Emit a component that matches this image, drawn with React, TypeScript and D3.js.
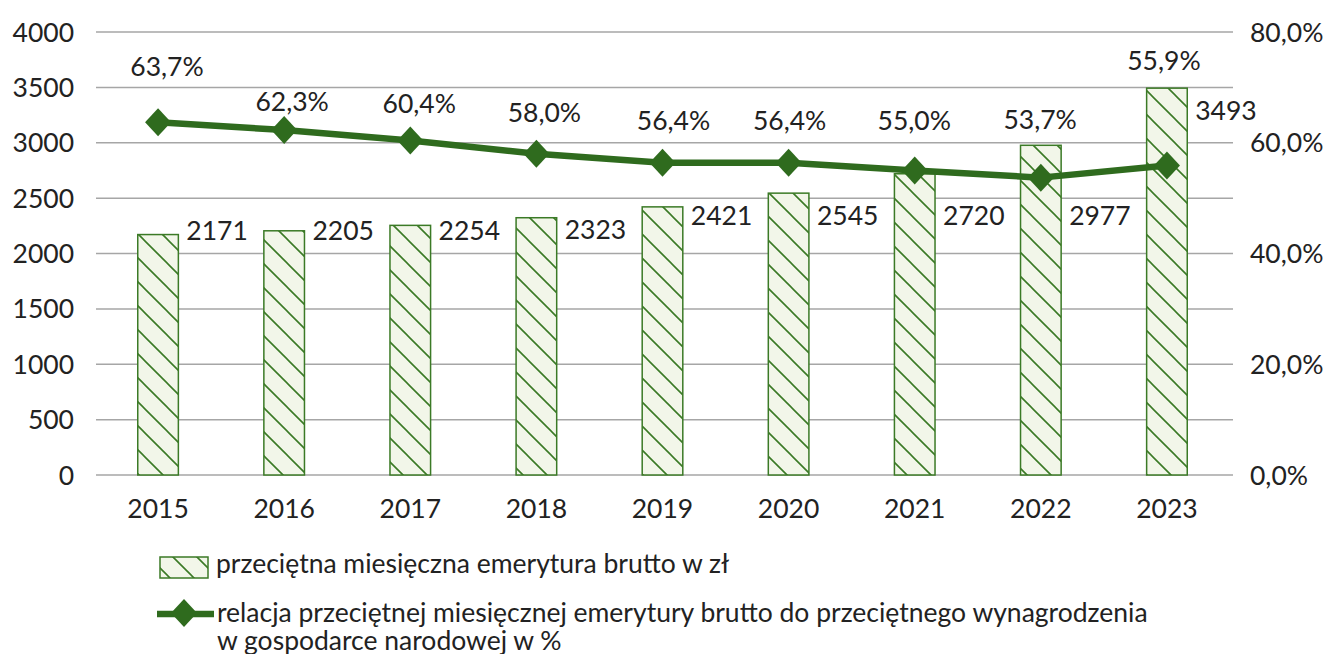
import React from 'react';
import * as d3 from 'd3';

const years = ['2015', '2016', '2017', '2018', '2019', '2020', '2021', '2022', '2023'];
const pension = [2171, 2205, 2254, 2323, 2421, 2545, 2720, 2977, 3493];
const ratio = [63.7, 62.3, 60.4, 58.0, 56.4, 56.4, 55.0, 53.7, 55.9];
const leftTicks = [0, 500, 1000, 1500, 2000, 2500, 3000, 3500, 4000];
const rightTicks = [0, 20, 40, 60, 80];
const legendBars = 'przeciętna miesięczna emerytura brutto w zł';
const legendLine1 = 'relacja przeciętnej miesięcznej emerytury brutto do przeciętnego wynagrodzenia';
const legendLine2 = 'w gospodarce narodowej w %';

// label placement offsets (layout, px)
const valueLabelDy = [5.4, 9.2, 14.6, 21.3, 18.1, 31.9, 51.2, 79.7, 31.9];
const pctLabelDx = [9, 8, 9, 8, 11, 1, -0.5, -0.7, -3];
const pctLabelDy = [-46, -19.3, -27.8, -32, -32.7, -32.7, -40.4, -48.3, -95.4];

const W = 1328;
const H = 654;
const FONT = 'Lato, "Open Sans", sans-serif';
const FS = 26.5;
const GREEN_DARK = '#2f6b1e';
const GREEN = '#3b7a26';
const FILL = '#f2f6e9';
const GRID = '#a6a6a6';
const TEXT = '#222';

export default function App() {
  const x = d3.scaleBand<string>().domain(years).range([95, 1230]).paddingInner(0.678).paddingOuter(0.339);
  const yL = d3.scaleLinear().domain([0, 4000]).range([475, 32]);
  const yR = d3.scaleLinear().domain([0, 80]).range([475, 32]);
  const cx = (i: number) => (x(years[i]) as number) + x.bandwidth() / 2;
  const line = d3.line<number>().x((_, i) => cx(i)).y((d) => yR(d));
  const fmtPct = (v: number) => v.toFixed(1).replace('.', ',') + '%';
  const diamond = 'M0,-14 L13,0 L0,14 L-13,0 Z';

  return (
    <svg width={W} height={H} style={{ position: 'absolute', left: 0, top: 0, background: '#fff' }} fontFamily={FONT}>
      <defs>
        <pattern id="hatch" patternUnits="userSpaceOnUse" width={24} height={24}>
          <rect width={24} height={24} fill={FILL} />
          <path d="M0,0 L24,24 M-6,18 L6,30 M18,-6 L30,6" stroke={GREEN} strokeWidth={1.6} />
        </pattern>
      </defs>
      <rect width={W} height={H} fill="#fff" />
      {leftTicks.map((t) => (
        <line key={'g' + t} x1={96} x2={1233} y1={yL(t)} y2={yL(t)} stroke={GRID} strokeWidth={1.5} />
      ))}
      {leftTicks.map((t) => (
        <text key={'l' + t} x={74} y={yL(t)} dy="0.36em" textAnchor="end" fontSize={FS} fill={TEXT}>
          {t}
        </text>
      ))}
      {rightTicks.map((t) => (
        <text key={'r' + t} x={1250} y={yR(t)} dy="0.36em" textAnchor="start" fontSize={FS} fill={TEXT}>
          {t.toFixed(1).replace('.', ',') + '%'}
        </text>
      ))}
      {years.map((yr, i) => (
        <rect
          key={'b' + yr}
          x={x(yr) as number}
          y={yL(pension[i])}
          width={x.bandwidth()}
          height={yL(0) - yL(pension[i])}
          fill="url(#hatch)"
          stroke={GREEN}
          strokeWidth={1.5}
        />
      ))}
      {years.map((yr, i) => (
        <text key={'v' + yr} x={(x(yr) as number) + x.bandwidth() + 8} y={yL(pension[i]) + valueLabelDy[i]} fontSize={FS} fill={TEXT}>
          {pension[i]}
        </text>
      ))}
      {years.map((yr) => (
        <text key={'x' + yr} x={(x(yr) as number) + x.bandwidth() / 2} y={518} textAnchor="middle" fontSize={FS} fill={TEXT}>
          {yr}
        </text>
      ))}
      <path d={line(ratio) as string} fill="none" stroke={GREEN_DARK} strokeWidth={6.5} strokeLinejoin="round" />
      {ratio.map((r, i) => (
        <path key={'m' + i} d={diamond} transform={`translate(${cx(i)},${yR(r)})`} fill={GREEN_DARK} />
      ))}
      {ratio.map((r, i) => (
        <text key={'p' + i} x={cx(i) + pctLabelDx[i]} y={yR(r) + pctLabelDy[i]} textAnchor="middle" fontSize={FS} fill={TEXT}>
          {fmtPct(r)}
        </text>
      ))}
      {/* legend */}
      <rect x={160} y={557} width={48} height={21} fill="url(#hatch)" stroke={GREEN} strokeWidth={1.5} />
      <text x={216} y={573} fontSize={FS} fill={TEXT}>
        {legendBars}
      </text>
      <line x1={157} x2={214} y1={614} y2={614} stroke={GREEN_DARK} strokeWidth={6.5} />
      <path d={diamond} transform="translate(184,613)" fill={GREEN_DARK} />
      <text x={217} y={622} fontSize={FS} fill={TEXT}>
        {legendLine1}
      </text>
      <text x={217} y={650} fontSize={FS} fill={TEXT}>
        {legendLine2}
      </text>
    </svg>
  );
}
